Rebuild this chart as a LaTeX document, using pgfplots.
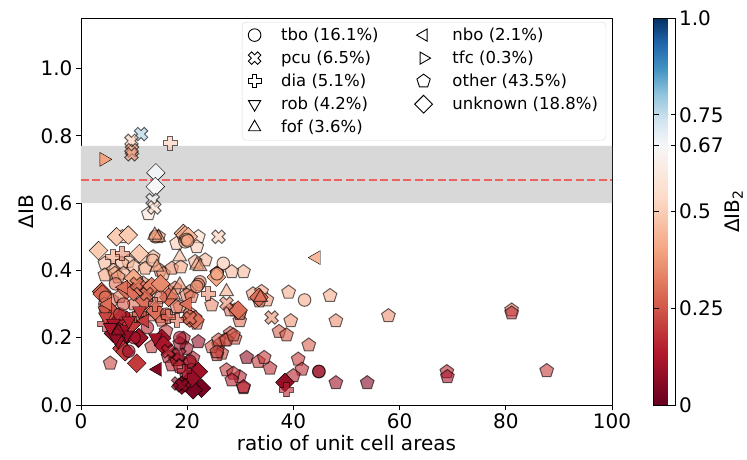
\documentclass[border=0pt]{standalone}
\usepackage{fontspec}
\setmainfont{DejaVu Sans}
\usepackage{pgfplots}
\usepackage{pgfplotstable}
\pgfplotsset{compat=1.18}

\pgfdeclareplotmark{Pf}{%
 \pgfpathmoveto{\pgfqpoint{-0.36\pgfplotmarksize}{\pgfplotmarksize}}%
 \pgfpathlineto{\pgfqpoint{0.36\pgfplotmarksize}{\pgfplotmarksize}}%
 \pgfpathlineto{\pgfqpoint{0.36\pgfplotmarksize}{0.36\pgfplotmarksize}}%
 \pgfpathlineto{\pgfqpoint{\pgfplotmarksize}{0.36\pgfplotmarksize}}%
 \pgfpathlineto{\pgfqpoint{\pgfplotmarksize}{-0.36\pgfplotmarksize}}%
 \pgfpathlineto{\pgfqpoint{0.36\pgfplotmarksize}{-0.36\pgfplotmarksize}}%
 \pgfpathlineto{\pgfqpoint{0.36\pgfplotmarksize}{-\pgfplotmarksize}}%
 \pgfpathlineto{\pgfqpoint{-0.36\pgfplotmarksize}{-\pgfplotmarksize}}%
 \pgfpathlineto{\pgfqpoint{-0.36\pgfplotmarksize}{-0.36\pgfplotmarksize}}%
 \pgfpathlineto{\pgfqpoint{-\pgfplotmarksize}{-0.36\pgfplotmarksize}}%
 \pgfpathlineto{\pgfqpoint{-\pgfplotmarksize}{0.36\pgfplotmarksize}}%
 \pgfpathlineto{\pgfqpoint{-0.36\pgfplotmarksize}{0.36\pgfplotmarksize}}%
 \pgfpathclose
 \pgfusepathqfillstroke}
\pgfdeclareplotmark{Xf}{%
 \begin{pgfscope}
 \pgftransformrotate{45}%
 \pgfpathmoveto{\pgfqpoint{-0.36\pgfplotmarksize}{\pgfplotmarksize}}%
 \pgfpathlineto{\pgfqpoint{0.36\pgfplotmarksize}{\pgfplotmarksize}}%
 \pgfpathlineto{\pgfqpoint{0.36\pgfplotmarksize}{0.36\pgfplotmarksize}}%
 \pgfpathlineto{\pgfqpoint{\pgfplotmarksize}{0.36\pgfplotmarksize}}%
 \pgfpathlineto{\pgfqpoint{\pgfplotmarksize}{-0.36\pgfplotmarksize}}%
 \pgfpathlineto{\pgfqpoint{0.36\pgfplotmarksize}{-0.36\pgfplotmarksize}}%
 \pgfpathlineto{\pgfqpoint{0.36\pgfplotmarksize}{-\pgfplotmarksize}}%
 \pgfpathlineto{\pgfqpoint{-0.36\pgfplotmarksize}{-\pgfplotmarksize}}%
 \pgfpathlineto{\pgfqpoint{-0.36\pgfplotmarksize}{-0.36\pgfplotmarksize}}%
 \pgfpathlineto{\pgfqpoint{-\pgfplotmarksize}{-0.36\pgfplotmarksize}}%
 \pgfpathlineto{\pgfqpoint{-\pgfplotmarksize}{0.36\pgfplotmarksize}}%
 \pgfpathlineto{\pgfqpoint{-0.36\pgfplotmarksize}{0.36\pgfplotmarksize}}%
 \pgfpathclose
 \pgfusepathqfillstroke
 \end{pgfscope}}

\pgfplotstableread{
x y c
19.6 0.485 0.45
19.9 0.492 0.42
20.1 0.488 0.40
22.4 0.366 0.35
22.1 0.358 0.33
21.8 0.352 0.36
26.8 0.421 0.48
42.1 0.312 0.42
44.8 0.099 0.08
44.8 0.100 0.10
4.5 0.300 0.30
4.6 0.285 0.25
4.6 0.320 0.30
7.3 0.270 0.20
10.0 0.200 0.12
12.5 0.230 0.15
15.0 0.320 0.30
16.1 0.270 0.25
18.6 0.200 0.12
25.6 0.390 0.40
13.5 0.430 0.45
6.5 0.360 0.30
9.0 0.160 0.10
20.5 0.130 0.10
14.0 0.500 0.40
8.0 0.300 0.25
}\tbo
\pgfplotstableread{
x y c
11.3 0.805 0.78
9.5 0.785 0.50
9.6 0.757 0.40
9.5 0.745 0.38
13.5 0.609 0.66
13.8 0.587 0.56
25.9 0.500 0.50
35.9 0.260 0.35
27.4 0.302 0.35
20.5 0.258 0.30
16.4 0.160 0.15
18.3 0.064 0.08
19.0 0.059 0.06
10.5 0.360 0.30
12.4 0.330 0.30
18.5 0.150 0.12
}\pcu
\pgfplotstableread{
x y c
16.8 0.778 0.50
7.8 0.450 0.35
10.5 0.267 0.30
18.0 0.252 0.30
16.4 0.262 0.28
38.7 0.045 0.15
6.0 0.440 0.40
4.5 0.240 0.20
14.0 0.300 0.30
19.5 0.100 0.12
24.0 0.330 0.35
11.0 0.270 0.25
}\dia
\pgfplotstableread{
x y c
4.5 0.280 0.25
4.6 0.262 0.22
6.1 0.243 0.12
7.3 0.213 0.10
8.0 0.225 0.10
8.6 0.208 0.08
7.0 0.190 0.10
9.0 0.250 0.15
5.5 0.230 0.12
11.0 0.280 0.20
14.0 0.200 0.10
6.5 0.200 0.08
}\rob
\pgfplotstableread{
x y c
14.3 0.410 0.40
18.6 0.440 0.45
27.4 0.337 0.42
33.8 0.320 0.30
21.8 0.416 0.40
17.4 0.327 0.33
18.6 0.357 0.35
14.6 0.498 0.40
13.9 0.505 0.38
7.0 0.220 0.10
22.4 0.411 0.38
}\fof
\pgfplotstableread{
x y c
44.3 0.438 0.45
14.4 0.106 0.05
5.0 0.300 0.30
8.0 0.350 0.30
12.0 0.250 0.20
20.0 0.300 0.30
}\nbo
\pgfplotstableread{
x y c
4.3 0.730 0.40
}\tfc
\pgfplotstableread{
x y c
30.6 0.396 0.45
32.4 0.330 0.38
34.0 0.337 0.40
35.0 0.312 0.38
33.6 0.309 0.32
39.1 0.335 0.42
46.9 0.325 0.42
39.5 0.250 0.37
48.0 0.250 0.36
57.9 0.265 0.36
81.1 0.282 0.30
81.1 0.273 0.18
29.9 0.275 0.32
29.9 0.250 0.30
37.3 0.218 0.27
38.7 0.208 0.26
42.9 0.178 0.27
31.2 0.141 0.08
33.4 0.129 0.20
34.5 0.141 0.20
35.6 0.109 0.18
29.9 0.084 0.15
30.6 0.051 0.15
40.9 0.136 0.20
41.6 0.106 0.18
40.0 0.087 0.15
48.0 0.066 0.10
53.9 0.066 0.05
68.9 0.099 0.15
69.0 0.084 0.12
87.7 0.102 0.20
22.1 0.500 0.55
21.8 0.470 0.50
18.0 0.480 0.50
23.4 0.431 0.45
28.4 0.396 0.45
25.6 0.391 0.38
24.6 0.297 0.35
29.0 0.282 0.30
29.9 0.272 0.30
18.6 0.292 0.35
20.5 0.337 0.35
19.9 0.327 0.33
18.0 0.292 0.30
20.5 0.272 0.30
21.5 0.258 0.28
28.1 0.282 0.30
28.1 0.213 0.25
29.0 0.198 0.25
27.1 0.193 0.23
25.9 0.178 0.22
26.5 0.154 0.22
25.6 0.149 0.20
22.1 0.188 0.08
19.3 0.198 0.15
19.9 0.168 0.10
17.4 0.149 0.12
18.3 0.134 0.12
20.5 0.124 0.15
21.1 0.139 0.15
27.4 0.104 0.20
28.7 0.094 0.18
28.4 0.074 0.15
30.6 0.054 0.15
20.8 0.104 0.15
24.6 0.173 0.25
25.6 0.158 0.22
25.9 0.193 0.25
27.4 0.193 0.25
28.7 0.208 0.25
7.8 0.500 0.45
8.9 0.426 0.45
9.9 0.411 0.45
7.7 0.421 0.45
11.7 0.440 0.45
13.6 0.440 0.45
4.5 0.421 0.45
6.1 0.400 0.42
12.1 0.406 0.40
14.9 0.400 0.35
15.5 0.390 0.38
17.1 0.406 0.35
18.8 0.410 0.40
21.5 0.426 0.45
25.6 0.391 0.30
4.5 0.386 0.40
6.4 0.391 0.40
8.0 0.391 0.42
11.7 0.362 0.35
13.0 0.352 0.33
16.1 0.342 0.32
17.7 0.347 0.33
20.8 0.322 0.32
5.8 0.312 0.30
7.3 0.322 0.32
12.4 0.282 0.30
13.3 0.267 0.28
14.9 0.262 0.27
15.2 0.252 0.27
21.1 0.252 0.28
21.8 0.243 0.27
5.5 0.124 0.22
13.3 0.173 0.20
18.6 0.183 0.10
16.4 0.144 0.15
17.1 0.119 0.15
18.0 0.134 0.15
18.6 0.114 0.15
19.9 0.084 0.10
21.1 0.079 0.10
12.7 0.568 0.58
14.6 0.500 0.42
19.3 0.500 0.45
7.0 0.380 0.38
10.0 0.300 0.30
16.0 0.220 0.20
}\other
\pgfplotstableread{
x y c
14.1 0.690 0.68
14.0 0.649 0.67
6.7 0.500 0.50
8.9 0.505 0.50
19.3 0.510 0.45
19.6 0.505 0.42
20.2 0.500 0.45
3.3 0.459 0.50
9.9 0.377 0.42
3.9 0.337 0.30
4.0 0.330 0.28
8.6 0.342 0.30
9.9 0.337 0.30
11.4 0.347 0.32
12.7 0.342 0.30
13.3 0.352 0.33
29.6 0.282 0.30
6.1 0.243 0.15
7.3 0.262 0.15
8.6 0.252 0.15
6.1 0.213 0.10
8.6 0.208 0.10
10.8 0.198 0.12
10.9 0.200 0.10
7.7 0.168 0.20
8.3 0.158 0.20
10.5 0.124 0.20
22.7 0.050 0.03
21.1 0.045 0.03
22.1 0.099 0.10
20.8 0.079 0.08
19.0 0.059 0.06
38.4 0.067 0.08
20.5 0.258 0.30
21.5 0.253 0.30
15.2 0.198 0.10
15.5 0.178 0.12
12.0 0.310 0.30
14.0 0.280 0.30
16.5 0.320 0.30
25.5 0.380 0.42
11.0 0.450 0.50
15.0 0.360 0.35
33.5 0.320 0.30
5.5 0.280 0.25
9.5 0.240 0.20
}\unknown

\definecolor{bandgray}{RGB}{216,216,216}

\pgfplotsset{
  sc/.style={scatter, only marks, forget plot, scatter src=explicit,
    scatter/use mapped color={draw=black, fill=mapped color},
    mark options={fill opacity=0.6, draw opacity=0.6, line width=1pt}},
}
\newcommand{\pre}{\rule{18pt}{0pt}}
\newcommand{\pad}{\rule{34pt}{0pt}}

\begin{document}
\begin{tikzpicture}
\useasboundingbox (-81pt,-54pt) rectangle (666pt,405pt);
\begin{axis}[
  at={(0,0)}, anchor=south west,
  width=531pt, height=387pt, scale only axis,
  xmin=0, xmax=100, ymin=0, ymax=1.15,
  xtick={0,20,40,60,80,100}, ytick={0,0.2,0.4,0.6,0.8,1.0},
  yticklabel style={/pgf/number format/.cd, fixed, fixed zerofill, precision=1},
  /pgf/number format/assume math mode=true,
  tick align=outside, tick pos=left, major tick length=5pt,
  every tick/.style={black, line width=0.8pt},
  ticklabel style={font=\fontsize{20}{24}\selectfont},
  xlabel={ratio of unit cell areas}, ylabel={ΔIB},
  label style={font=\fontsize{20}{24}\selectfont},
  axis line style={line width=0.8pt},
  colormap={rdbu}{rgb255(0cm)=(103,0,31) rgb255(1.34cm)=(178,24,43) rgb255(2.68cm)=(214,96,77)
     rgb255(4.02cm)=(244,165,130) rgb255(5.36cm)=(253,219,199) rgb255(6.7cm)=(247,247,247)
     rgb255(7.36cm)=(209,229,240) rgb255(8.02cm)=(146,197,222) rgb255(8.68cm)=(67,147,195)
     rgb255(9.34cm)=(33,102,172) rgb255(10cm)=(5,48,97)},
  point meta min=0, point meta max=1,
  colorbar,
  colorbar style={
    at={(parent axis.north east)}, anchor=north west, xshift=33pt,
    scale only axis, width=22pt, height=387pt,
    ytick={0,0.25,0.5,0.67,0.75,1}, yticklabels={0,0.25,0.5,0.67,0.75,1.0},
    yticklabel style={font=\fontsize{20}{24}\selectfont},
    ylabel={ΔIB\textsubscript{2}},
    ylabel style={font=\fontsize{20}{24}\selectfont, at={(axis description cs:3.65,0.5)}, anchor=center},
    major tick length=5pt,
  },
  legend columns=2,
  legend cell align=left,
  legend style={at={(0.303,0.99)}, anchor=north west, draw=black!15, rounded corners=4pt,
    font=\fontsize{16.5}{19}\selectfont, row sep=5pt, inner xsep=6pt, inner ysep=4pt},
]
\addplot[fill=bandgray, draw=none, forget plot] coordinates {(0,0.6) (100,0.6) (100,0.77) (0,0.77)} \closedcycle;

\addplot[sc, mark=pentagon*, mark size=7.2pt] table[x=x,y=y,meta=c] {\other};
\addplot[sc, mark=square*, mark size=6.6pt, mark options={rotate=45}] table[x=x,y=y,meta=c] {\unknown};
\addplot[sc, mark=*, mark size=6.3pt] table[x=x,y=y,meta=c] {\tbo};
\addplot[sc, mark=Xf, mark size=7pt] table[x=x,y=y,meta=c] {\pcu};
\addplot[sc, mark=Pf, mark size=7pt] table[x=x,y=y,meta=c] {\dia};
\addplot[sc, mark=triangle*, mark size=8pt, mark options={rotate=180}] table[x=x,y=y,meta=c] {\rob};
\addplot[sc, mark=triangle*, mark size=8pt] table[x=x,y=y,meta=c] {\fof};
\addplot[sc, mark=triangle*, mark size=8pt, mark options={rotate=90}] table[x=x,y=y,meta=c] {\nbo};
\addplot[sc, mark=triangle*, mark size=8pt, mark options={rotate=-90}] table[x=x,y=y,meta=c] {\tfc};

\addplot[red, opacity=0.55, no marks, line width=2pt, dash pattern=on 8pt off 3.5pt, forget plot] coordinates {(0,0.67) (100,0.67)};

\addlegendimage{only marks, mark=*, mark size=6.3pt, mark options={draw=black, fill=white, line width=0.9pt}}
\addlegendentry{\pre tbo (16.1\%)\pad}
\addlegendimage{only marks, mark=triangle*, mark size=7pt, mark options={rotate=90, draw=black, fill=white, line width=0.9pt}}
\addlegendentry{\pre nbo (2.1\%)}
\addlegendimage{only marks, mark=Xf, mark size=6.5pt, mark options={draw=black, fill=white, line width=0.9pt}}
\addlegendentry{\pre pcu (6.5\%)}
\addlegendimage{only marks, mark=triangle*, mark size=7pt, mark options={rotate=-90, draw=black, fill=white, line width=0.9pt}}
\addlegendentry{\pre tfc (0.3\%)}
\addlegendimage{only marks, mark=Pf, mark size=6.5pt, mark options={draw=black, fill=white, line width=0.9pt}}
\addlegendentry{\pre dia (5.1\%)}
\addlegendimage{only marks, mark=pentagon*, mark size=7pt, mark options={draw=black, fill=white, line width=0.9pt}}
\addlegendentry{\pre other (43.5\%)}
\addlegendimage{only marks, mark=triangle*, mark size=7pt, mark options={rotate=180, draw=black, fill=white, line width=0.9pt}}
\addlegendentry{\pre rob (4.2\%)}
\addlegendimage{only marks, mark=square*, mark size=6.3pt, mark options={rotate=45, draw=black, fill=white, line width=0.9pt}}
\addlegendentry{\pre unknown (18.8\%)}
\addlegendimage{only marks, mark=triangle*, mark size=7pt, mark options={draw=black, fill=white, line width=0.9pt}}
\addlegendentry{\pre fof (3.6\%)}
\end{axis}
\end{tikzpicture}
\end{document}
